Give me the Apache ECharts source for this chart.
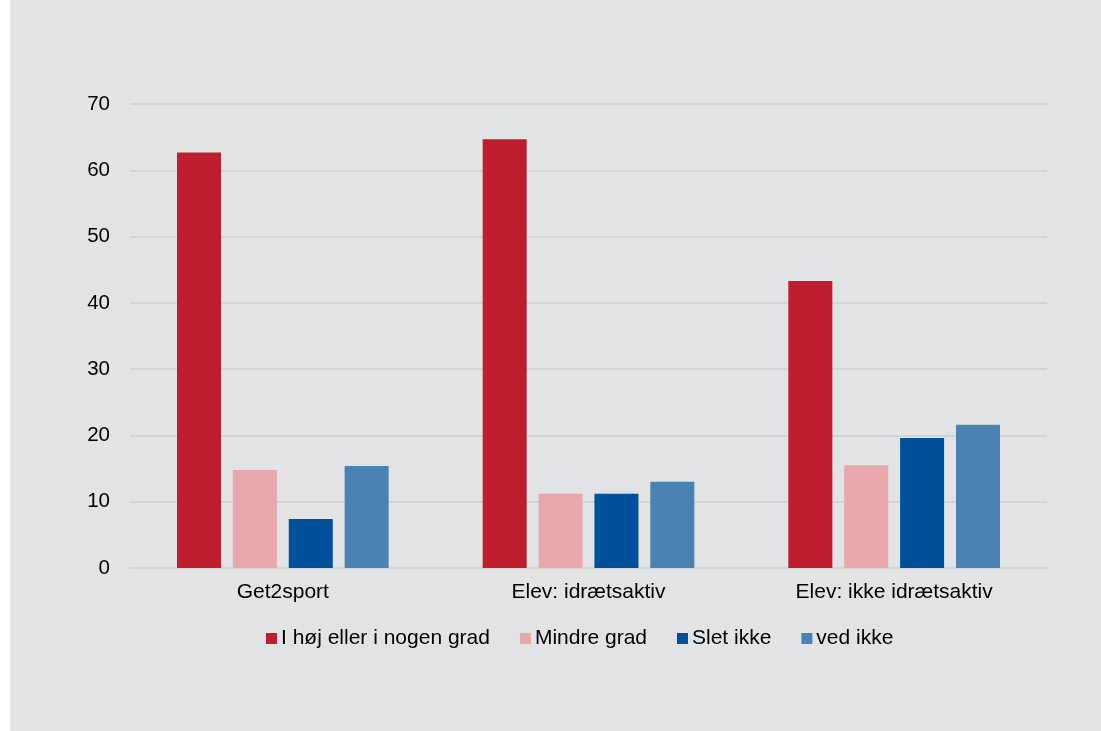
<!DOCTYPE html>
<html>
<head>
<meta charset="utf-8">
<script src="https://cdn.jsdelivr.net/npm/echarts@6/dist/echarts.min.js"></script>
<style>
  html, body { margin: 0; padding: 0; background: #ffffff; }
  #chart { position: absolute; left: 10px; top: 0; width: 1091px; height: 731px; background: #e2e3e5; }
</style>
</head>
<body>
<div id="chart"></div>
<script>
const categories = ['Get2sport', 'Elev: idrætsaktiv', 'Elev: ikke idrætsaktiv'];
const seriesNames = ['I høj eller i nogen grad', 'Mindre grad', 'Slet ikke', 'ved ikke'];
const hojGrad = [62.7, 64.7, 43.3];
const mindreGrad = [14.8, 11.2, 15.5];
const sletIkke = [7.4, 11.2, 19.6];
const vedIkke = [15.4, 13.0, 21.6];
const colors = ['#be1e2d', '#e8a7ad', '#00509a', '#4a82b4'];
const yTicks = [0, 10, 20, 30, 40, 50, 60, 70];

const values = [hojGrad, mindreGrad, sletIkke, vedIkke];
const font = 'Liberation Sans, Arial, sans-serif';

const chart = echarts.init(document.getElementById('chart'));
chart.setOption({
  backgroundColor: '#e2e3e5',
  animation: false,
  textStyle: { fontFamily: font },
  grid: { left: 120, right: 54, top: 104, bottom: 163, containLabel: false },
  legend: {
    bottom: 77,
    left: 251,
    itemWidth: 11,
    itemHeight: 11,
    itemGap: 30,
    icon: 'rect',
    textStyle: { fontSize: 21, color: '#000', padding: [0, 0, 0, -1] },
    data: seriesNames
  },
  xAxis: {
    type: 'category',
    data: categories,
    axisTick: { show: false },
    axisLine: { show: true, lineStyle: { color: '#d3d4d6', width: 2 } },
    axisLabel: { fontSize: 21, color: '#000', margin: 14 }
  },
  yAxis: {
    type: 'value',
    min: yTicks[0],
    max: yTicks[yTicks.length - 1],
    interval: 10,
    axisLine: { show: false },
    axisTick: { show: false },
    axisLabel: { fontSize: 20.5, color: '#000', margin: 20 },
    splitLine: { lineStyle: { color: '#d3d4d6', width: 2 } }
  },
  series: seriesNames.map((name, i) => ({
    name: name,
    type: 'bar',
    data: values[i],
    barWidth: 44,
    barGap: '27%',
    itemStyle: { color: colors[i] }
  }))
});
</script>
</body>
</html>
